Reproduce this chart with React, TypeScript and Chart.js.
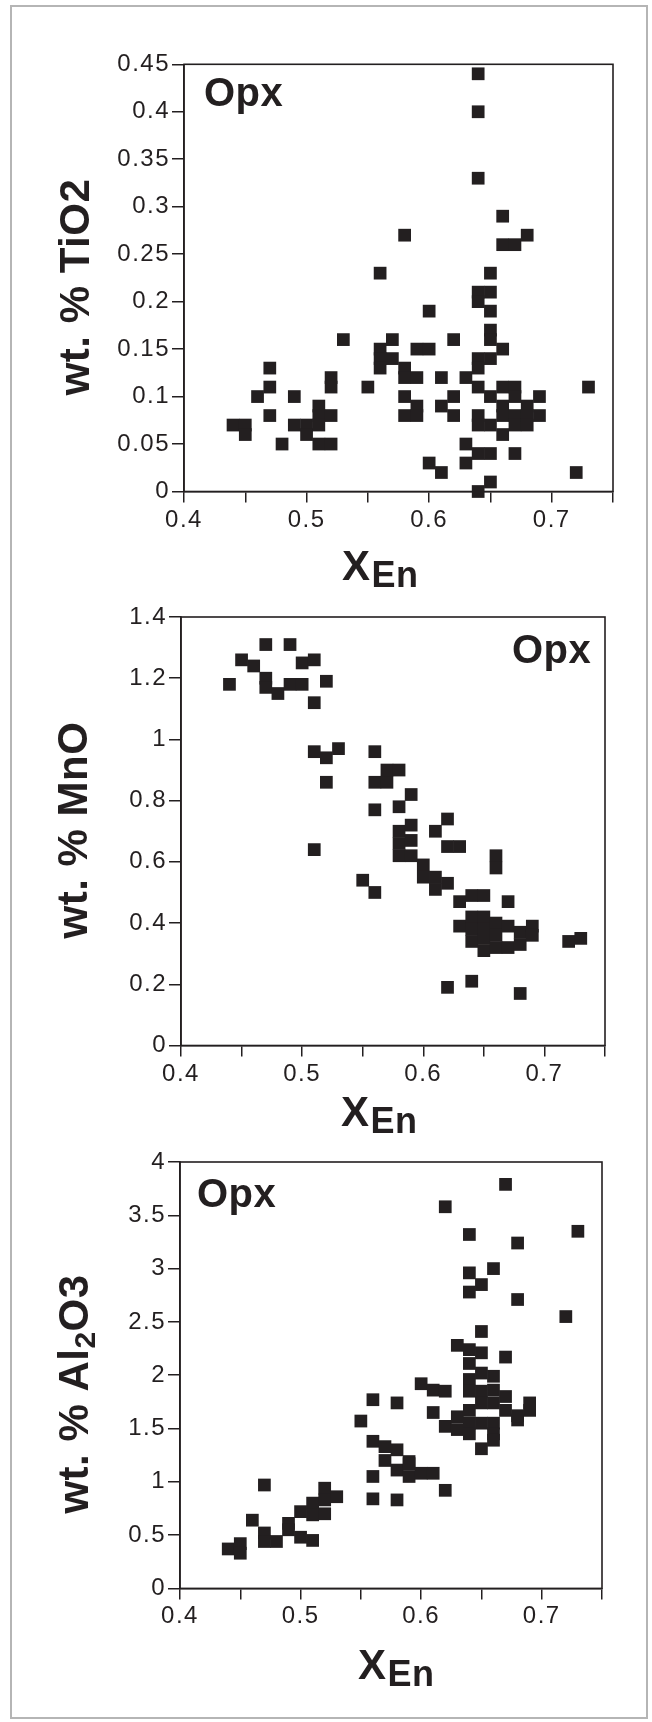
import React, { useEffect, useRef } from "react";
import { Chart, registerables } from "chart.js";

Chart.register(...registerables);

// ---------------- data (x = X_En, y = wt. %) ----------------
const tio2Points: [number, number][] = [
  [0.44, 0.07], [0.45, 0.07], [0.45, 0.06], [0.46, 0.10],
  [0.47, 0.13], [0.47, 0.11], [0.47, 0.08], [0.48, 0.05],
  [0.49, 0.10], [0.49, 0.07], [0.50, 0.07], [0.50, 0.06],
  [0.51, 0.09], [0.51, 0.08], [0.51, 0.07], [0.51, 0.05],
  [0.52, 0.08], [0.52, 0.05], [0.52, 0.12], [0.52, 0.11],
  [0.53, 0.16], [0.55, 0.11],
  [0.56, 0.23], [0.56, 0.15], [0.56, 0.14], [0.56, 0.13],
  [0.57, 0.16], [0.57, 0.14],
  [0.58, 0.27], [0.58, 0.13], [0.58, 0.12], [0.58, 0.10], [0.58, 0.08],
  [0.59, 0.15], [0.59, 0.12], [0.59, 0.09], [0.59, 0.08],
  [0.60, 0.19], [0.60, 0.15], [0.60, 0.03],
  [0.61, 0.12], [0.61, 0.09], [0.61, 0.02],
  [0.62, 0.16], [0.62, 0.10], [0.62, 0.08],
  [0.63, 0.12], [0.63, 0.05], [0.63, 0.03],
  [0.64, 0.44], [0.64, 0.40], [0.64, 0.33], [0.64, 0.21], [0.64, 0.20], [0.64, 0.14],
  [0.64, 0.13], [0.64, 0.11], [0.64, 0.08], [0.64, 0.07], [0.64, 0.04], [0.64, 0.00],
  [0.65, 0.23], [0.65, 0.21], [0.65, 0.19], [0.65, 0.17], [0.65, 0.16],
  [0.65, 0.14], [0.65, 0.10], [0.65, 0.07], [0.65, 0.04], [0.65, 0.01],
  [0.66, 0.29], [0.66, 0.26], [0.66, 0.15], [0.66, 0.11], [0.66, 0.09], [0.66, 0.08], [0.66, 0.06],
  [0.67, 0.26], [0.67, 0.11], [0.67, 0.10], [0.67, 0.08], [0.67, 0.07], [0.67, 0.04],
  [0.68, 0.27], [0.68, 0.09], [0.68, 0.08], [0.68, 0.07],
  [0.69, 0.10], [0.69, 0.08],
  [0.72, 0.02], [0.73, 0.11],
];

const mnoPoints: [number, number][] = [
  [0.44, 1.18], [0.45, 1.26], [0.46, 1.24], [0.47, 1.31], [0.47, 1.20], [0.47, 1.17],
  [0.48, 1.15], [0.49, 1.31], [0.49, 1.18], [0.50, 1.18], [0.50, 1.25], [0.51, 1.26],
  [0.51, 1.12], [0.52, 1.19], [0.51, 0.96], [0.52, 0.94], [0.53, 0.97], [0.52, 0.86],
  [0.51, 0.64], [0.55, 0.54], [0.56, 0.50], [0.56, 0.96], [0.56, 0.86], [0.57, 0.86],
  [0.57, 0.90], [0.58, 0.90], [0.56, 0.77], [0.58, 0.78], [0.59, 0.82],
  [0.58, 0.70], [0.58, 0.66], [0.58, 0.62], [0.59, 0.72], [0.59, 0.67], [0.59, 0.62],
  [0.60, 0.59], [0.60, 0.55], [0.61, 0.55], [0.61, 0.51], [0.62, 0.53],
  [0.61, 0.70], [0.62, 0.74], [0.62, 0.65], [0.63, 0.65], [0.66, 0.62], [0.66, 0.58],
  [0.67, 0.47], [0.63, 0.47], [0.64, 0.49], [0.65, 0.49],
  [0.63, 0.39], [0.64, 0.42], [0.64, 0.38], [0.64, 0.34],
  [0.65, 0.42], [0.65, 0.38], [0.65, 0.35], [0.65, 0.31],
  [0.66, 0.40], [0.66, 0.36], [0.66, 0.32], [0.67, 0.39], [0.67, 0.32],
  [0.68, 0.37], [0.68, 0.33], [0.69, 0.39], [0.69, 0.36],
  [0.72, 0.34], [0.73, 0.35], [0.62, 0.19], [0.64, 0.21], [0.68, 0.17],
];

const al2o3Points: [number, number][] = [
  [0.44, 0.37], [0.45, 0.42], [0.45, 0.33], [0.46, 0.64], [0.47, 0.97], [0.47, 0.52],
  [0.47, 0.44], [0.48, 0.44], [0.49, 0.61], [0.49, 0.55], [0.50, 0.72], [0.50, 0.48],
  [0.51, 0.45], [0.51, 0.80], [0.51, 0.69], [0.52, 0.94], [0.52, 0.83], [0.52, 0.70],
  [0.53, 0.86], [0.55, 1.57], [0.56, 1.77], [0.56, 1.38], [0.56, 1.05], [0.56, 0.84],
  [0.58, 1.74], [0.58, 0.83], [0.57, 1.33], [0.57, 1.20], [0.58, 1.30], [0.58, 1.11],
  [0.59, 1.19], [0.59, 1.05], [0.59, 1.17], [0.60, 1.08], [0.61, 1.08], [0.62, 0.92],
  [0.60, 1.92], [0.61, 1.86], [0.62, 1.85], [0.61, 1.65], [0.62, 1.52], [0.63, 1.49],
  [0.63, 1.61], [0.64, 1.55], [0.65, 1.55], [0.66, 1.55], [0.64, 1.45], [0.66, 1.45],
  [0.66, 1.39], [0.65, 1.31], [0.68, 1.58], [0.69, 1.74], [0.69, 1.67], [0.68, 1.62],
  [0.64, 1.96], [0.65, 2.02], [0.66, 1.99], [0.64, 1.85], [0.65, 1.85], [0.66, 1.86],
  [0.65, 1.74], [0.66, 1.74], [0.67, 1.80], [0.67, 1.67], [0.64, 1.67],
  [0.63, 2.28], [0.64, 2.24], [0.65, 2.21], [0.64, 2.11], [0.67, 2.17], [0.65, 2.41],
  [0.72, 2.55], [0.68, 2.71], [0.64, 2.96], [0.64, 2.78], [0.65, 2.85], [0.66, 3.00],
  [0.64, 3.32], [0.68, 3.24], [0.73, 3.35], [0.62, 3.58], [0.67, 3.79],
];

// tick values and labels
const xTicks = [0.4, 0.45, 0.5, 0.55, 0.6, 0.65, 0.7, 0.75];
const xLabeled = [0.4, 0.5, 0.6, 0.7];
const tio2Ticks = [0, 0.05, 0.1, 0.15, 0.2, 0.25, 0.3, 0.35, 0.4, 0.45];
const mnoTicks = [0, 0.2, 0.4, 0.6, 0.8, 1, 1.2, 1.4];
const al2o3Ticks = [0, 0.5, 1, 1.5, 2, 2.5, 3, 3.5, 4];

const panelLabel = "Opx";
const xTitleMain = "X";
const xTitleSub = "En";
const tio2Title = [{ t: "wt. % TiO2" }];
const mnoTitle = [{ t: "wt. % MnO" }];
const al2o3Title = [{ t: "wt. % Al" }, { t: "2", sub: true }, { t: "O3" }];

// ---------------- styles / layout ----------------
const INK = "#231f20";
const FONT = '"Liberation Sans", Arial, Helvetica, sans-serif';
const PAGE_W = 652;

type Seg = { t: string; sub?: boolean };

interface PanelCfg {
  id: string;
  top: number;
  height: number;
  points: [number, number][];
  yTicks: number[];
  yMax: number;
  area: { left: number; right: number; top: number; bottom: number };
  yTitle: Seg[];
  yTitlePos: { x: number; cy: number };
  xTitlePos: { x: number; y: number };
  opxPos: { x: number; y: number };
}

const PANELS: PanelCfg[] = [
  {
    id: "tio2",
    top: 0,
    height: 595,
    points: tio2Points,
    yTicks: tio2Ticks,
    yMax: 0.45,
    area: { left: 184, right: 613, top: 64.3, bottom: 491.5 },
    yTitle: tio2Title,
    yTitlePos: { x: 89, cy: 287 },
    xTitlePos: { x: 342, y: 580 },
    opxPos: { x: 204, y: 106 },
  },
  {
    id: "mno",
    top: 595,
    height: 545,
    points: mnoPoints,
    yTicks: mnoTicks,
    yMax: 1.4,
    area: { left: 181, right: 605, top: 617, bottom: 1045.5 },
    yTitle: mnoTitle,
    yTitlePos: { x: 87, cy: 830 },
    xTitlePos: { x: 341, y: 1126 },
    opxPos: { x: 512, y: 663 },
  },
  {
    id: "al2o3",
    top: 1140,
    height: 582,
    points: al2o3Points,
    yTicks: al2o3Ticks,
    yMax: 4,
    area: { left: 180, right: 602, top: 1162, bottom: 1588.4 },
    yTitle: al2o3Title,
    yTitlePos: { x: 88, cy: 1394 },
    xTitlePos: { x: 358, y: 1679 },
    opxPos: { x: 197, y: 1207 },
  },
];

const fmt = (v: number) => String(Number(Number(v).toFixed(2)));

const framePlugin = {
  id: "frameAndText",
  beforeDraw(chart: any) {
    const ctx: any = chart.ctx;
    if ("letterSpacing" in ctx) ctx.letterSpacing = "1.5px";
  },
  beforeDatasetsDraw(chart: any) {
    const a = chart.chartArea;
    const ctx = chart.ctx;
    ctx.save();
    ctx.strokeStyle = INK;
    ctx.lineWidth = 1.6;
    ctx.strokeRect(a.left, a.top, a.right - a.left, a.bottom - a.top);
    ctx.restore();
  },
  afterDraw(chart: any, _args: any, opts: any) {
    const p: PanelCfg = opts.panel;
    if (!p) return;
    const ctx: any = chart.ctx;
    ctx.save();
    if ("letterSpacing" in ctx) ctx.letterSpacing = "0.5px";
    ctx.fillStyle = INK;
    ctx.textAlign = "left";
    ctx.textBaseline = "alphabetic";

    // "Opx"
    ctx.font = `bold 40px ${FONT}`;
    ctx.fillText(panelLabel, p.opxPos.x, p.opxPos.y - p.top);

    // x title X_En
    ctx.font = `bold 42px ${FONT}`;
    const xw = ctx.measureText(xTitleMain).width;
    ctx.fillText(xTitleMain, p.xTitlePos.x, p.xTitlePos.y - p.top);
    ctx.font = `bold 36px ${FONT}`;
    ctx.fillText(xTitleSub, p.xTitlePos.x + xw + 1, p.xTitlePos.y - p.top + 7);

    // y title (rotated)
    const segs = p.yTitle.map((s) => ({
      ...s,
      font: `bold ${s.sub ? 30 : 42}px ${FONT}`,
    }));
    let total = 0;
    const widths = segs.map((s) => {
      ctx.font = s.font;
      const w = ctx.measureText(s.t).width;
      total += w;
      return w;
    });
    ctx.translate(p.yTitlePos.x, p.yTitlePos.cy - p.top);
    ctx.rotate(-Math.PI / 2);
    let cx = -total / 2;
    segs.forEach((s, i) => {
      ctx.font = s.font;
      ctx.fillText(s.t, cx, s.sub ? 7 : 0);
      cx += widths[i];
    });
    ctx.restore();
  },
};

function Panel({ cfg }: { cfg: PanelCfg }) {
  const ref = useRef<HTMLCanvasElement | null>(null);
  useEffect(() => {
    if (!ref.current) return;
    const a = cfg.area;
    const xAxisH = cfg.top + cfg.height - a.bottom;
    const tickFont = { size: 24, family: FONT };
    const chart = new Chart(ref.current, {
      type: "scatter",
      data: {
        datasets: [
          {
            data: cfg.points.map(([x, y]) => ({ x, y })),
            pointStyle: "rect",
            pointRadius: 9,
            pointHoverRadius: 9,
            pointBorderWidth: 0,
            backgroundColor: INK,
            borderColor: INK,
            clip: false as any,
          },
        ],
      },
      options: {
        responsive: false,
        animation: false,
        events: [],
        layout: {
          padding: {
            top: a.top - cfg.top,
            right: PAGE_W - a.right,
            left: 0,
            bottom: 0,
          },
        },
        plugins: {
          legend: { display: false },
          tooltip: { enabled: false },
          frameAndText: { panel: cfg },
        } as any,
        scales: {
          x: {
            type: "linear",
            min: 0.4,
            max: 0.75,
            afterBuildTicks: (s: any) => {
              s.ticks = xTicks.map((v) => ({ value: v }));
            },
            afterFit: (s: any) => {
              s.height = xAxisH;
            },
            ticks: {
              autoSkip: false,
              maxRotation: 0,
              padding: 3,
              color: INK,
              font: tickFont,
              callback: (v: any) =>
                xLabeled.some((l) => Math.abs(l - Number(v)) < 1e-6) ? fmt(v) : "",
            },
            grid: {
              drawOnChartArea: false,
              drawTicks: true,
              tickLength: 11,
              color: INK,
              lineWidth: 1.5,
            },
            border: { display: true, color: INK, width: 1.6 },
          },
          y: {
            type: "linear",
            min: 0,
            max: cfg.yMax,
            afterBuildTicks: (s: any) => {
              s.ticks = cfg.yTicks.map((v) => ({ value: v }));
            },
            afterFit: (s: any) => {
              s.width = a.left;
            },
            ticks: {
              autoSkip: false,
              padding: 2,
              color: INK,
              font: tickFont,
              callback: (v: any) => fmt(v),
            },
            grid: {
              drawOnChartArea: false,
              drawTicks: true,
              tickLength: 12,
              color: INK,
              lineWidth: 1.5,
            },
            border: { display: true, color: INK, width: 1.6 },
          },
        },
      },
      plugins: [framePlugin],
    });
    return () => chart.destroy();
  }, [cfg]);

  return (
    <canvas
      ref={ref}
      width={PAGE_W}
      height={cfg.height}
      style={{
        position: "absolute",
        left: 0,
        top: cfg.top,
        width: PAGE_W,
        height: cfg.height,
        display: "block",
      }}
    />
  );
}

export default function App() {
  return (
    <div
      style={{
        position: "absolute",
        left: 0,
        top: 0,
        width: PAGE_W,
        height: 1722,
        background: "#ffffff",
        overflow: "hidden",
      }}
    >
      <div
        style={{
          position: "absolute",
          left: 10,
          top: 5,
          width: 638,
          height: 1714,
          border: "2px solid #b5b5b5",
          boxSizing: "border-box",
        }}
      />
      {PANELS.map((p) => (
        <Panel key={p.id} cfg={p} />
      ))}
    </div>
  );
}
